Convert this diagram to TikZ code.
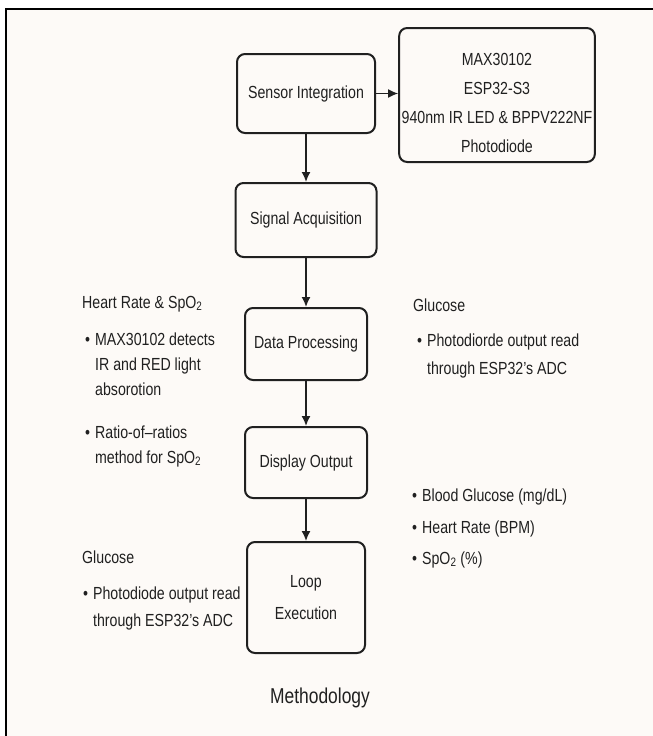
\documentclass[tikz,border=0pt]{standalone}
\usepackage{fontspec}
\setmainfont{Liberation Sans}[FakeStretch=0.81]
\usetikzlibrary{arrows.meta, positioning}
\definecolor{paper}{RGB}{253,250,247}
\definecolor{ink}{RGB}{32,32,32}

\begin{document}
\begin{tikzpicture}[
  x=1pt, y=-1pt,
  font=\fontsize{17.5}{25}\selectfont,
  fleche/.style={
    -{Latex[length=10pt, width=9pt]},
    line width=1.6pt, draw=ink
  },
  etape/.style={
    draw=ink, line width=2pt, rounded corners=8pt, fill=paper,
    align=center, text=ink, inner xsep=0pt, inner ysep=2pt
  },
  note/.style={anchor=base west, inner sep=0pt, text=ink}
]
\useasboundingbox (0,0) rectangle (653,736);

% --- Cadre ---
\fill[paper] (6,9) rectangle (653,736);
\draw[line width=2.6pt, black] (6,736) -- (6,9) -- (653,9);

% --- Etapes ---
\node[etape, minimum width=138pt, minimum height=79pt] (capteur) at (306,93.5)
  {Sensor Integration};
\node[etape, minimum width=190pt, minimum height=134pt, inner xsep=2.5pt,
  font=\fontsize{17.5}{29}\selectfont] (materiel) at (497,95)
  {\rule{0pt}{28pt}MAX30102\\ESP32-S3\\940nm IR LED \& BPPV222NF\\Photodiode};
\node[etape, minimum width=141pt, minimum height=74pt] (signal) at (306,220)
  {Signal Acquisition};
\node[etape, minimum width=122pt, minimum height=72pt] (donnees) at (306,344)
  {Data Processing};
\node[etape, minimum width=122pt, minimum height=71pt] (affichage) at (306,462.5)
  {Display Output};
\node[etape, minimum width=118pt, minimum height=111pt,
  font=\fontsize{17.5}{32}\selectfont] (boucle) at (306,597.5)
  {Loop\\Execution};

% --- Notes ---
\node[note] (coeur) at (82,308) {%
  \begin{tabular}[t]{@{}l@{\hspace{5pt}}l@{}}
    \multicolumn{2}{@{}l@{}}{Heart Rate \& SpO\textsubscript{2}}\\[12pt]
    \hspace{3pt}• & MAX30102 detects\\
                  & IR and RED light\\
                  & absorotion\\[18pt]
    \hspace{3pt}• & Ratio-of--ratios\\
                  & method for SpO\textsubscript{2}
  \end{tabular}};
\node[note] (glucoseD) at (413,311) {%
  \begin{tabular}[t]{@{}l@{\hspace{5pt}}l@{}}
    \multicolumn{2}{@{}l@{}}{Glucose}\\[10pt]
    \hspace{4pt}• & Photodiorde output read\\[3pt]
                  & through ESP32's ADC
  \end{tabular}};
\node[note] (glucoseG) at (82,563) {%
  \begin{tabular}[t]{@{}l@{\hspace{5pt}}l@{}}
    \multicolumn{2}{@{}l@{}}{Glucose}\\[11pt]
    \hspace{1pt}• & Photodiode output read\\[2pt]
                  & through ESP32's ADC
  \end{tabular}};
\node[note] (sorties) at (412,501) {%
  \begin{tabular}[t]{@{}l@{\hspace{5pt}}l@{}}
    • & Blood Glucose (mg/dL)\\[7pt]
    • & Heart Rate (BPM)\\[6pt]
    • & SpO\textsubscript{2} (\%)
  \end{tabular}};
\node[font=\fontsize{21.5}{24}\selectfont, text=ink] (titre) at (320,698)
  {Methodology};

% --- Fleches ---
\draw[fleche] (capteur.east) -- (capteur.east -| materiel.west);
\draw[fleche] (capteur) -- (signal);
\draw[fleche] (signal) -- (donnees);
\draw[fleche] (donnees) -- (affichage);
\draw[fleche] (affichage) -- (boucle);

\end{tikzpicture}
\end{document}
